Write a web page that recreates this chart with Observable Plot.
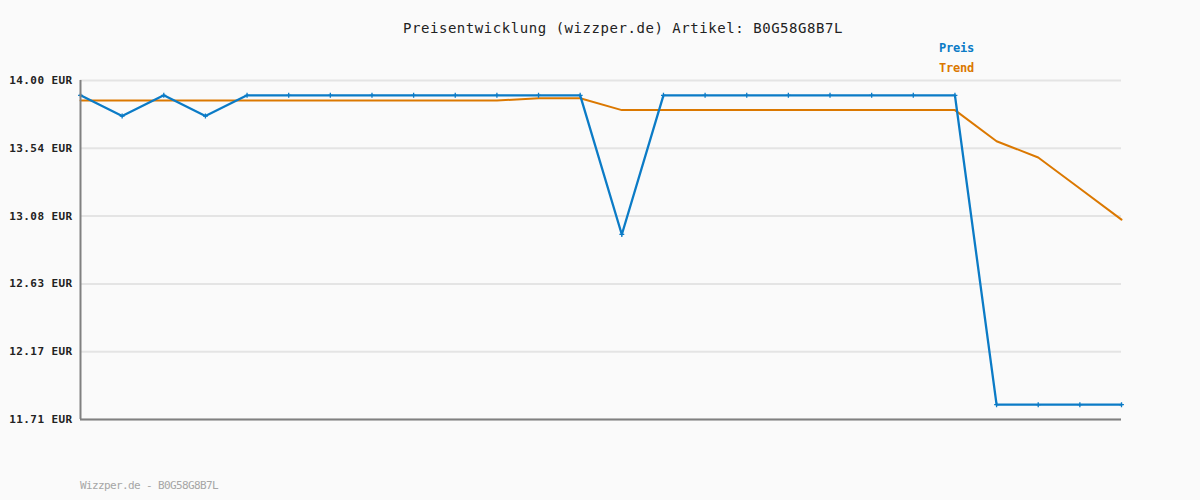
<!DOCTYPE html>
<html>
<head>
<meta charset="utf-8">
<script src="https://cdn.jsdelivr.net/npm/d3@7"></script>
<script src="https://cdn.jsdelivr.net/npm/@observablehq/plot@0.6"></script>
<style>
  html, body { margin: 0; padding: 0; background: #fafafa; }
  #wrap { position: relative; width: 1200px; height: 500px; background: #fafafa; font-family: "DejaVu Sans Mono", monospace; }
  #chart { position: absolute; left: 0; top: 0; }
  .t { position: absolute; white-space: nowrap; line-height: 1; }
  #title { left: 403px; top: 21px; font-size: 14px; letter-spacing: 0.55px; color: #222; }
  .leg { left: 939px; font-size: 12px; font-weight: bold; letter-spacing: -0.2px; }
  #lp { top: 42px; color: #0b7bc6; }
  #lt { top: 62px; color: #db7800; }
  #foot { left: 80px; top: 480px; font-size: 11px; letter-spacing: -0.62px; color: #a6a6a6; }
</style>
</head>
<body>
<div id="wrap">
  <div id="chart"></div>
  <div class="t" id="title"></div>
  <div class="t leg" id="lp"></div>
  <div class="t leg" id="lt"></div>
  <div class="t" id="foot"></div>
</div>
<script>
const titleText = "Preisentwicklung (wizzper.de) Artikel: B0G58G8B7L";
const footerText = "Wizzper.de - B0G58G8B7L";
const seriesNames = ["Preis", "Trend"];

// Preis per observation (26 points)
const preis = [13.90, 13.76, 13.90, 13.76, 13.90, 13.90, 13.90, 13.90, 13.90, 13.90, 13.90, 13.90, 13.90,
               12.96, 13.90, 13.90, 13.90, 13.90, 13.90, 13.90, 13.90, 13.90,
               11.81, 11.81, 11.81, 11.81];
// Trend per observation
const trend = [13.865, 13.865, 13.865, 13.865, 13.865, 13.865, 13.865, 13.865, 13.865, 13.865, 13.865, 13.88, 13.88,
               13.80, 13.80, 13.80, 13.80, 13.80, 13.80, 13.80, 13.80, 13.80,
               13.59, 13.48, 13.27, 13.06];
// y axis ticks
const yTicks = [14.00, 13.542, 13.084, 12.626, 12.168, 11.71];
const yDomain = [11.71, 14.00];

const blue = "#0b7bc6";
const orange = "#db7800";

const idx = preis.map((_, i) => i);

const plot = Plot.plot({
  width: 1200,
  height: 500,
  marginLeft: 80,
  marginRight: 79,
  marginTop: 80,
  marginBottom: 81,
  style: { background: "transparent", fontFamily: "DejaVu Sans Mono", fontSize: "11px", fontWeight: "bold", letterSpacing: "0.4px", color: "#222" },
  x: { domain: [0, preis.length - 1], axis: null },
  y: { domain: yDomain },
  marks: [
    Plot.gridY(yTicks, { stroke: "#e4e4e4", strokeOpacity: 1, strokeWidth: 2 }),
    Plot.axisY(yTicks, { tickSize: 0, tickPadding: 8, tickFormat: d => d.toFixed(2) + " EUR", label: null, fill: "#222" }),
    Plot.lineY(trend, { x: idx, y: trend, stroke: orange, strokeWidth: 2 }),
    Plot.lineY(preis, { x: idx, y: preis, stroke: blue, strokeWidth: 2.3 }),
    Plot.dot(preis, { x: idx, y: preis, symbol: "plus", r: 1.7, stroke: blue, strokeWidth: 1.3, fill: "none" }),
    Plot.ruleX([0], { y1: yDomain[0], y2: yDomain[1], stroke: "#808080", strokeWidth: 2 }),
    Plot.ruleY([yDomain[0]], { stroke: "#808080", strokeWidth: 2 })
  ]
});
document.getElementById("chart").appendChild(plot);
document.getElementById("title").textContent = titleText;
document.getElementById("lp").textContent = seriesNames[0];
document.getElementById("lt").textContent = seriesNames[1];
document.getElementById("foot").textContent = footerText;
</script>
</body>
</html>
